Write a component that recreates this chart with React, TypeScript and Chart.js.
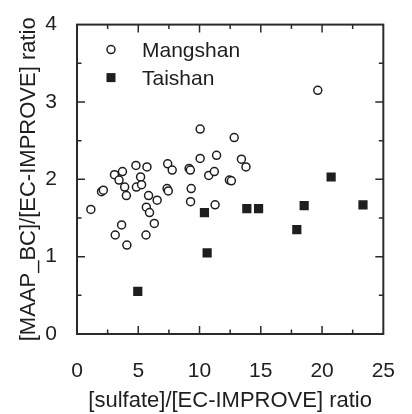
import React, { useEffect, useRef } from "react";
import { Chart, registerables } from "chart.js";

Chart.register(...registerables);

const mangshanX = [1.13, 2.0, 2.15, 3.06, 3.71, 3.43, 3.89, 4.03, 3.64, 3.12, 4.07, 4.81, 5.71, 5.19, 4.85, 5.27, 5.84, 6.54, 5.66, 5.92, 6.31, 5.63, 7.4, 7.35, 7.45, 7.77, 9.15, 9.25, 10.05, 10.05, 11.39, 10.75, 11.21, 12.44, 12.6, 12.83, 13.42, 13.79, 9.32, 9.27, 11.27, 19.65];
const mangshanY = [1.61, 1.84, 1.86, 2.06, 2.1, 1.99, 1.9, 1.79, 1.41, 1.28, 1.15, 2.18, 2.16, 2.03, 1.9, 1.93, 1.79, 1.73, 1.64, 1.57, 1.43, 1.28, 2.2, 1.88, 1.85, 2.12, 2.14, 2.12, 2.27, 2.65, 2.31, 2.05, 2.1, 1.99, 1.98, 2.54, 2.26, 2.16, 1.88, 1.71, 1.67, 3.15];
const taishanX = [4.96, 10.4, 10.62, 13.86, 14.82, 17.94, 18.54, 20.74, 23.34];
const taishanY = [0.55, 1.57, 1.05, 1.62, 1.62, 1.35, 1.66, 2.03, 1.67];

const seriesNames = ["Mangshan", "Taishan"];
const xTitle = "[sulfate]/[EC-IMPROVE] ratio";
const yTitle = "[MAAP_BC]/[EC-IMPROVE] ratio";
const xMin = 0, xMax = 25, xStep = 5, xMinor = 2.5;
const yMin = 0, yMax = 4, yStep = 1, yMinor = 0.5;

const FONT = "'Liberation Sans', Arial, sans-serif";
const INK = "#1e1e1e";

const framePlugin = {
  id: "frameTicks",
  afterDraw(chart: any) {
    const { ctx, chartArea } = chart;
    const { left, right, top, bottom } = chartArea;
    const xs = chart.scales.x;
    const ys = chart.scales.y;
    ctx.save();
    ctx.strokeStyle = "#2a2a2a";
    ctx.lineWidth = 2;
    ctx.strokeRect(left, top, right - left, bottom - top);
    ctx.lineWidth = 1.5;
    ctx.beginPath();
    for (let v = xMin; v <= xMax + 1e-9; v += xMinor) {
      const px = xs.getPixelForValue(v);
      const major = Math.abs(v / xStep - Math.round(v / xStep)) < 1e-6;
      const len = major ? 8 : 4.5;
      if (v === xMin || v >= xMax - 1e-9) continue;
      ctx.moveTo(px, bottom);
      ctx.lineTo(px, bottom - len);
      ctx.moveTo(px, top);
      ctx.lineTo(px, top + len);
    }
    for (let v = yMin; v <= yMax + 1e-9; v += yMinor) {
      const py = ys.getPixelForValue(v);
      const major = Math.abs(v / yStep - Math.round(v / yStep)) < 1e-6;
      const len = major ? 8 : 4.5;
      if (v === yMin || v >= yMax - 1e-9) continue;
      ctx.moveTo(left, py);
      ctx.lineTo(left + len, py);
      ctx.moveTo(right, py);
      ctx.lineTo(right - len, py);
    }
    ctx.stroke();

    // legend
    const lx = left + 34;
    const tx = left + 65;
    const y1 = top + 25;
    const y2 = top + 53;
    ctx.fillStyle = "#ffffff";
    ctx.strokeStyle = INK;
    ctx.lineWidth = 1.5;
    ctx.beginPath();
    ctx.arc(lx, y1, 4, 0, Math.PI * 2);
    ctx.fill();
    ctx.stroke();
    ctx.fillStyle = INK;
    ctx.fillRect(lx - 4.5, y2 - 4.5, 9, 9);
    ctx.font = `21px ${FONT}`;
    ctx.textBaseline = "middle";
    ctx.textAlign = "left";
    ctx.fillText(seriesNames[0], tx, y1 + 2);
    ctx.fillText(seriesNames[1], tx, y2 + 2);
    ctx.restore();
  },
};

export default function App() {
  const ref = useRef<HTMLCanvasElement | null>(null);
  useEffect(() => {
    if (!ref.current) return;
    const chart = new Chart(ref.current, {
      type: "scatter",
      data: {
        datasets: [
          {
            label: seriesNames[0],
            data: mangshanX.map((x, i) => ({ x, y: mangshanY[i] })),
            pointStyle: "circle",
            pointRadius: 4,
            pointBorderWidth: 1.5,
            pointBackgroundColor: "#ffffff",
            pointBorderColor: INK,
          },
          {
            label: seriesNames[1],
            data: taishanX.map((x, i) => ({ x, y: taishanY[i] })),
            pointStyle: "rect",
            pointRadius: 6.5,
            pointBorderWidth: 0,
            pointBackgroundColor: INK,
            pointBorderColor: INK,
          },
        ],
      },
      options: {
        responsive: false,
        animation: false,
        layout: { padding: { left: 0, right: 14, top: 19, bottom: 0 } },
        plugins: { legend: { display: false }, tooltip: { enabled: false } },
        scales: {
          x: {
            type: "linear",
            min: xMin,
            max: xMax,
            grid: { display: false },
            border: { display: false },
            ticks: { stepSize: xStep, padding: 17, color: INK, font: { family: FONT, size: 21 } },
            title: { display: true, text: xTitle, color: INK, font: { family: FONT, size: 22 }, padding: { top: 0, bottom: 0 } },
            afterFit: (s: any) => { s.height = 80; },
          },
          y: {
            type: "linear",
            min: yMin,
            max: yMax,
            grid: { display: false },
            border: { display: false },
            ticks: { stepSize: yStep, padding: 12, color: INK, font: { family: FONT, size: 21 } },
            title: { display: true, text: yTitle, color: INK, font: { family: FONT, size: 22 }, padding: { top: 16, bottom: 0 } },
            afterFit: (s: any) => { s.width = 77; },
          },
        },
      },
      plugins: [framePlugin],
    });
    return () => chart.destroy();
  }, []);
  return (
    <div style={{ position: "absolute", left: 0, top: 0, width: 412, height: 414, background: "#fff" }}>
      <canvas ref={ref} width={412} height={414} />
    </div>
  );
}
